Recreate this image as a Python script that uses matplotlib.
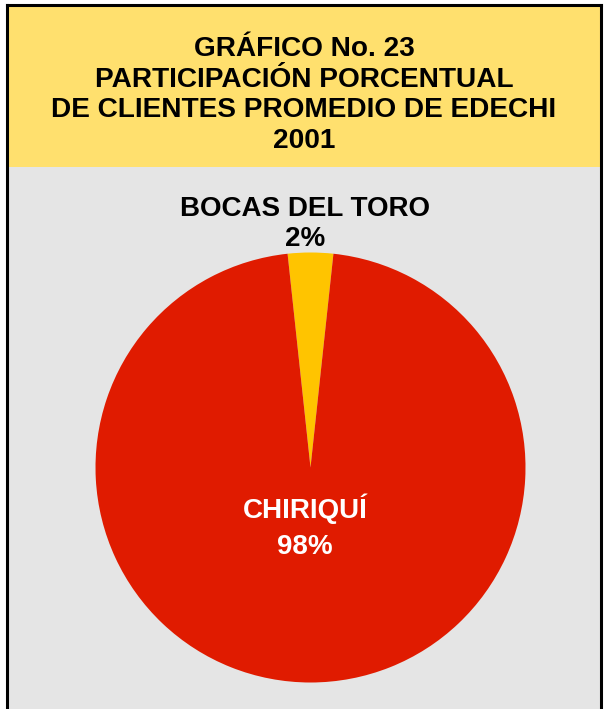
import matplotlib.pyplot as plt
from matplotlib.patches import Rectangle

# Datos
provincias = ["BOCAS DEL TORO", "CHIRIQUÍ"]
participacion = [3.4, 96.6]          # tamano de la porcion
etiquetas_pct = ["2%", "98%"]
colores = ["#FFC400", "#E01B00"]

titulo = "GRÁFICO No. 23\nPARTICIPACIÓN PORCENTUAL\nDE CLIENTES PROMEDIO DE EDECHI\n2001"

W, H = 606, 709
fig = plt.figure(figsize=(W / 100, H / 100), dpi=100)
ax = fig.add_axes([0, 0, 1, 1])

# Fondos
ax.add_patch(Rectangle((7, 0), 594, H - 167, facecolor="#E5E5E5", edgecolor="none", zorder=0))
ax.add_patch(Rectangle((7, H - 167), 594, 162, facecolor="#FFE06E", edgecolor="none", zorder=0))
ax.plot([7, 7], [0, H - 5], color="black", lw=2.2, zorder=1)
ax.plot([601, 601], [0, H - 5], color="black", lw=2.2, zorder=1)
ax.plot([7, 601], [H - 5, H - 5], color="black", lw=2.2, zorder=1)

# Pastel
inicio = 90 - participacion[0] / sum(participacion) * 360 / 2
ax.pie(participacion, colors=colores, startangle=inicio, counterclock=True,
       center=(310.5, H - 467.5), radius=215, frame=True,
       wedgeprops=dict(linewidth=0))

ax.set_xlim(0, W)
ax.set_ylim(0, H)
ax.set_aspect("equal")
ax.axis("off")

fuente = "Liberation Sans"
ax.text(W / 2 + 1, H - 95, titulo, ha="center", va="center", fontsize=20.2,
        fontweight="bold", family=fuente, linespacing=1.24, zorder=3)

ax.text(305, H - 209, provincias[0], ha="center", va="center", fontsize=20,
        fontweight="bold", family=fuente, zorder=3)
ax.text(305, H - 239, etiquetas_pct[0], ha="center", va="center", fontsize=20,
        fontweight="bold", family=fuente, zorder=3)

ax.text(305, H - 509, provincias[1], ha="center", va="center", fontsize=20,
        fontweight="bold", family=fuente, color="white", zorder=3)
ax.text(305, H - 547, etiquetas_pct[1], ha="center", va="center", fontsize=20,
        fontweight="bold", family=fuente, color="white", zorder=3)

plt.savefig("out.png", dpi=100)
